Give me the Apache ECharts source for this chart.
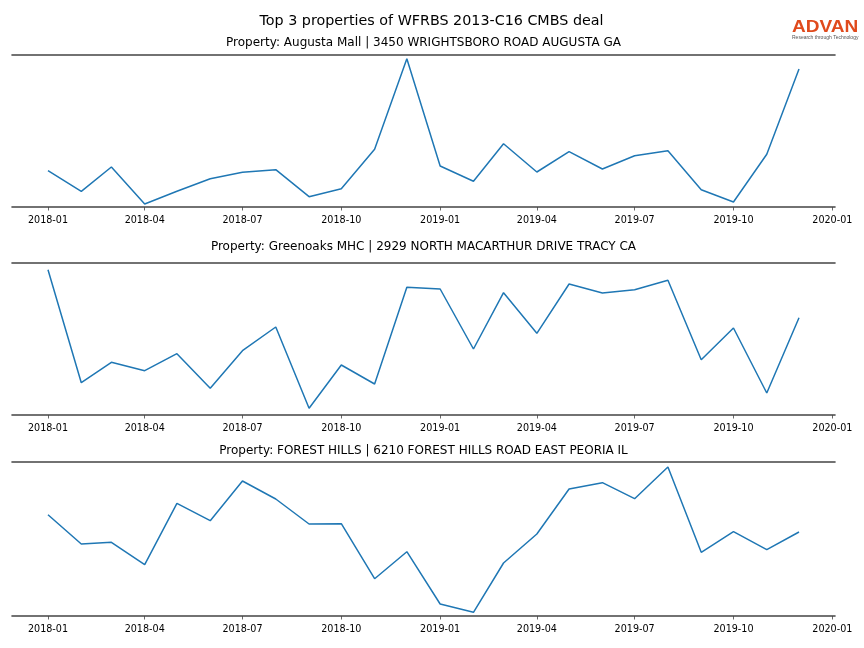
<!DOCTYPE html>
<html>
<head>
<meta charset="utf-8">
<script src="https://cdn.jsdelivr.net/npm/echarts@6/dist/echarts.min.js"></script>
<style>html,body{margin:0;padding:0;background:#fff}#c{width:864px;height:648px}</style>
</head>
<body>
<div id="c"></div>
<script>
var mainTitle = 'Top 3 properties of WFRBS 2013-C16 CMBS deal';
var subTitles = [
  'Property: Augusta Mall | 3450 WRIGHTSBORO ROAD AUGUSTA GA',
  'Property: Greenoaks MHC | 2929 NORTH MACARTHUR DRIVE TRACY CA',
  'Property: FOREST HILLS | 6210 FOREST HILLS ROAD EAST PEORIA IL'
];
var months = ['2018-01','2018-02','2018-03','2018-04','2018-05','2018-06','2018-07','2018-08','2018-09','2018-10','2018-11','2018-12',
              '2019-01','2019-02','2019-03','2019-04','2019-05','2019-06','2019-07','2019-08','2019-09','2019-10','2019-11','2019-12'];
var tickLabels = ['2018-01','2018-04','2018-07','2018-10','2019-01','2019-04','2019-07','2019-10','2020-01'];
// relative visit levels (no y scale shown in the reference)
var augustaMall = [36.3,15.7,40.0,3.0,15.7,28.3,34.7,37.3,10.3,18.3,57.7,148.3,
                   41.0,25.7,63.3,35.0,55.3,38.0,51.3,56.3,17.3,5.0,52.7,138.0];
var greenoaks   = [145.3,32.3,52.7,44.3,61.3,26.7,64.3,88.0,6.7,50.0,31.0,127.7,
                   126.0,66.0,122.3,81.7,131.0,122.0,125.3,134.7,55.3,87.0,22.0,97.3];
var forestHills = [101.3,72.0,73.7,51.3,112.7,95.3,135.0,117.0,92.0,92.3,37.3,64.3,
                   12.0,3.7,53.0,82.0,127.0,133.3,117.3,149.0,63.7,84.3,66.3,84.0];
var seriesList = [augustaMall, greenoaks, forestHills];
var yMax = [152, 152, 154];

var DAY = 86400000;
function ts(s){ var p = s.split('-'); return Date.UTC(+p[0], +p[1]-1, 1); }
var xMin = ts(months[0]) - 33.5*DAY;
var xMax = ts(months[months.length-1]) + 33.5*DAY;
var tickVals = tickLabels.map(ts);
function labelOf(v){
  for (var j=0;j<tickVals.length;j++){ if (Math.abs(tickVals[j]-v) < DAY) return tickLabels[j]; }
  return '';
}

var grids = [
  {left:12, right:29, top:55, height:152},
  {left:12, right:29, top:263, height:152},
  {left:12, right:29, top:462, height:154}
];
var spine = {show:true, lineStyle:{color:'#444', width:1.6}};
var xAxes = [], yAxes = [], series = [];
var graphics = [];
graphics.push({type:'text', x:431.5, y:21, style:{text:mainTitle, fill:'#000',
  font:'14.3px "DejaVu Sans"', align:'center', verticalAlign:'middle'}});
var subY = [42.8, 246.8, 450.8];
for (var i=0;i<3;i++){
  xAxes.push({type:'value', gridIndex:i, position:'bottom', min:xMin, max:xMax, scale:true,
    axisLine:spine, splitLine:{show:false},
    axisTick:{show:true, customValues:tickVals, length:3.5, lineStyle:{color:'#444', width:0.8}},
    axisLabel:{show:true, customValues:tickVals, margin:8, fontFamily:'DejaVu Sans', fontSize:9.6, color:'#000',
      formatter:function(v){ return labelOf(v); }}
  });
  xAxes.push({type:'value', gridIndex:i, position:'top', min:xMin, max:xMax, scale:true,
    axisLine:spine, axisTick:{show:false}, axisLabel:{show:false}, splitLine:{show:false}});
  yAxes.push({type:'value', gridIndex:i, min:0, max:yMax[i], show:false, splitLine:{show:false}});
  series.push({type:'line', xAxisIndex:2*i, yAxisIndex:i, symbol:'none', animation:false,
    lineStyle:{color:'#1f77b4', width:1.5},
    data: months.map(function(m,k){ return [ts(m), seriesList[i][k]]; })});
  graphics.push({type:'text', x:423.5, y:subY[i], style:{text:subTitles[i], fill:'#000',
    font:'12px "DejaVu Sans"', align:'center', verticalAlign:'middle'}});
}
graphics.push({type:'text', x:792, y:27, scaleX:1.12, style:{text:'ADVAN', fill:'#e04a1c',
  font:'bold 17px "Liberation Sans", Arial, sans-serif', align:'left', verticalAlign:'middle'}});
graphics.push({type:'text', x:792, y:38, style:{text:'Research through Technology', fill:'#555',
  font:'5px "Liberation Sans", sans-serif', align:'left', verticalAlign:'middle'}});

var chart = echarts.init(document.getElementById('c'), null, {renderer:'canvas'});
chart.setOption({
  animation:false,
  grid: grids,
  xAxis: xAxes,
  yAxis: yAxes,
  series: series,
  graphic: graphics
});
</script>
</body>
</html>
